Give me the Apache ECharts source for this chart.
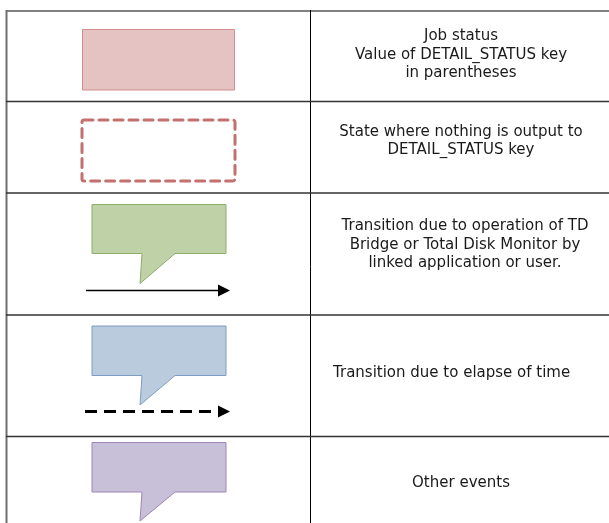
<!DOCTYPE html>
<html>
<head>
<meta charset="utf-8">
<script src="https://cdn.jsdelivr.net/npm/echarts@6/dist/echarts.min.js"></script>
<style>
html,body{margin:0;padding:0;background:#fff;}
#main{width:609px;height:523px;}
</style>
</head>
<body>
<div id="main"></div>
<script>
// Legend text (one entry per row)
const rowTexts = [
  "Job status\nValue of DETAIL_STATUS key\nin parentheses",
  "State where nothing is output to\nDETAIL_STATUS key",
  "Transition due to operation of TD\nBridge or Total Disk Monitor by\nlinked application or user.",
  "Transition due to elapse of time",
  "Other events"
];
const rowKinds = ["statusBox", "dashedBox", "calloutSolidArrow", "calloutDashedArrow", "callout"];
const calloutColors = { green: ["#bfd1a7", "#8eae6a"], blue: ["#b9cbdc", "#7f9dc0"], purple: ["#c8bfd8", "#9b86b5"] };

// Layout (pixels)
const rowLines = [101.5, 193, 315, 436.5];
const colX = 310.5;
const FONT = "'DejaVu Sans', sans-serif";

const g = [];
// table borders
g.push({ type: 'line', shape: { x1: 6, y1: 11, x2: 609, y2: 11 }, style: { stroke: '#808080', lineWidth: 2 } });
g.push({ type: 'line', shape: { x1: 6.5, y1: 10, x2: 6.5, y2: 523 }, style: { stroke: '#6e6e6e', lineWidth: 2 } });
g.push({ type: 'line', shape: { x1: colX, y1: 10, x2: colX, y2: 523 }, style: { stroke: '#000', lineWidth: 1 } });
rowLines.forEach(y => g.push({ type: 'line', shape: { x1: 6, y1: y, x2: 609, y2: y }, style: { stroke: '#333', lineWidth: 1.5 } }));

function callout(top, bottom, tip, col) {
  return { type: 'polygon', shape: { points: [[92, top], [226, top], [226, bottom], [175, bottom], [140, tip], [142, bottom], [92, bottom]] },
    style: { fill: col[0], stroke: col[1], lineWidth: 1 } };
}
// row 1
g.push({ type: 'rect', shape: { x: 82.5, y: 29.5, width: 152, height: 60.5 }, style: { fill: '#e6c3c3', stroke: '#d08d8c', lineWidth: 1 } });
// row 2
g.push({ type: 'rect', shape: { x: 82, y: 120, width: 153, height: 61, r: 2 }, style: { fill: 'none', stroke: '#c3706f', lineWidth: 3, lineDash: [9, 6], lineCap: 'round' } });
// row 3
g.push(callout(204.5, 253.5, 283.5, calloutColors.green));
g.push({ type: 'line', shape: { x1: 86, y1: 290.5, x2: 220, y2: 290.5 }, style: { stroke: '#000', lineWidth: 1.3 } });
g.push({ type: 'polygon', shape: { points: [[218, 284.5], [230, 290.5], [218, 296.5]] }, style: { fill: '#000' } });
// row 4
g.push(callout(326, 375.5, 405, calloutColors.blue));
g.push({ type: 'line', shape: { x1: 85, y1: 411.5, x2: 219, y2: 411.5 }, style: { stroke: '#000', lineWidth: 3, lineDash: [12, 7] } });
g.push({ type: 'polygon', shape: { points: [[218, 405.5], [230, 411.5], [218, 417.5]] }, style: { fill: '#000' } });
// row 5
g.push(callout(442.5, 492, 521, calloutColors.purple));

// texts
const textPos = [
  { x: 461, y: 55, align: 'center' },
  { x: 461, y: 141, align: 'center' },
  { x: 465, y: 245, align: 'center' },
  { x: 333, y: 373, align: 'left' },
  { x: 461, y: 483, align: 'center' }
];
rowTexts.forEach((t, i) => {
  const p = textPos[i];
  g.push({ type: 'text', x: p.x, y: p.y, style: { text: t, fill: '#1a1a1a', font: '15px ' + FONT, align: p.align, verticalAlign: 'middle', lineHeight: 18.5 } });
});

const chart = echarts.init(document.getElementById('main'), null, { renderer: 'canvas' });
chart.setOption({ animation: false, backgroundColor: '#fff', graphic: { elements: g } });
</script>
</body>
</html>
